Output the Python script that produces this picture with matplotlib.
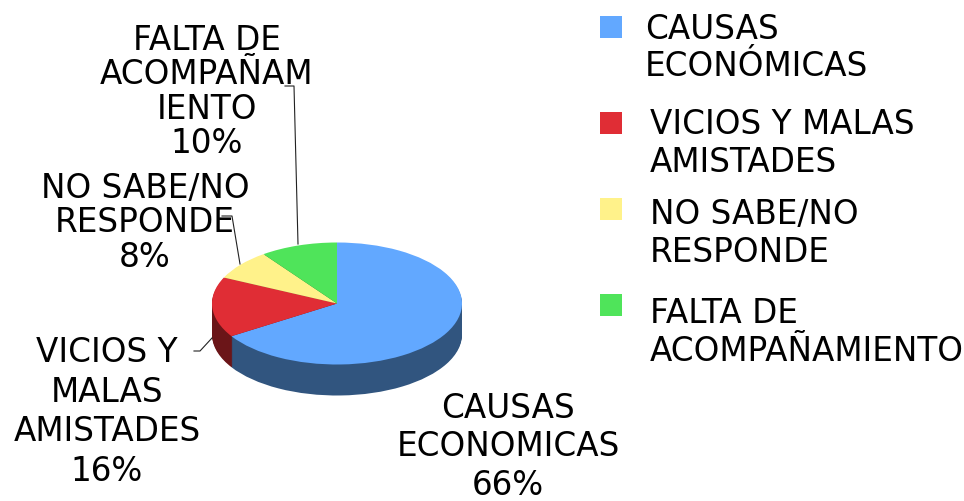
"""Tilted pie of the reasons given, with the labels where the original sheet left them."""
import matplotlib
matplotlib.use("Agg")
import matplotlib.pyplot as plt
from matplotlib.patches import Rectangle
from matplotlib.transforms import Affine2D

categories = ["CAUSAS ECONOMICAS", "VICIOS Y MALAS AMISTADES",
              "NO SABE/NO RESPONDE", "FALTA DE ACOMPAÑAMIENTO"]
values = [66, 16, 8, 10]
top_colors = ["#62A8FF", "#E02D35", "#FFF28A", "#4FE45A"]
side_colors = ["#31557F", "#6B1518", "#807945", "#28722D"]
legend_labels = ["CAUSAS\nECONÓMICAS", "VICIOS Y MALAS\nAMISTADES",
                 "NO SABE/NO\nRESPONDE", "FALTA DE\nACOMPAÑAMIENTO"]
slice_labels = ["CAUSAS\nECONOMICAS\n66%", "VICIOS Y\nMALAS\nAMISTADES\n16%",
                "NO SABE/NO\nRESPONDE\n8%", "FALTA DE\nACOMPAÑAM\nIENTO\n10%"]

W, H = 964, 502
CX, CY, RX, RY, DEPTH = 337, 304.5, 125, 61, 31
FS = 23.5

fig = plt.figure(figsize=(W / 100, H / 100), dpi=100)
ax = fig.add_axes([0, 0, 1, 1])
px = Affine2D().scale(1, -1).translate(0, H)  # picture pixels, origin top left

# side wall: darker pies stacked downward, top face last
for step in range(DEPTH, 0, -1):
    ax.pie(values, colors=side_colors, startangle=90, counterclock=False,
           center=(0, -step / RY), radius=1, wedgeprops=dict(linewidth=0))
ax.pie(values, colors=top_colors, startangle=90, counterclock=False,
       center=(0, 0), radius=1, wedgeprops=dict(linewidth=0))
ax.set_aspect("auto")
ax.set_box_aspect(None)
ax.set_position([0, 0, 1, 1])
ax.set_xlim(-CX / RX, (W - CX) / RX)
ax.set_ylim(-(H - CY) / RY, CY / RY)
ax.axis("off")

# leader lines
for xs, ys in [([298, 294, 285], [245, 87, 87]),
               ([240, 232, 222], [265, 217, 217]),
               ([212, 200, 194], [339, 352, 352])]:
    fig.add_artist(plt.Line2D(xs, ys, transform=px, color="#222222", lw=0.8))

# slice labels
for txt, (x, y, ls) in zip(slice_labels, [(508, 447, 1.2), (107, 412, 1.25),
                                          (145, 223, 1.04), (207, 92, 1.04)]):
    fig.text(x, y, txt, transform=px, fontsize=FS, ha="center", va="center",
             multialignment="center", linespacing=ls, color="black")

# legend
for txt, color, (sy, tx, ty) in zip(legend_labels, top_colors,
                                    [(17, 645, 48), (113, 650, 143.5),
                                     (199, 650, 233.5), (295, 650, 332.5)]):
    fig.add_artist(Rectangle((600, sy), 22, 22, transform=px, fc=color, ec="none"))
    fig.text(tx, ty, txt, transform=px, fontsize=FS, ha="left", va="center",
             linespacing=1.16, color="black")

fig.savefig("out.png", dpi=100)
